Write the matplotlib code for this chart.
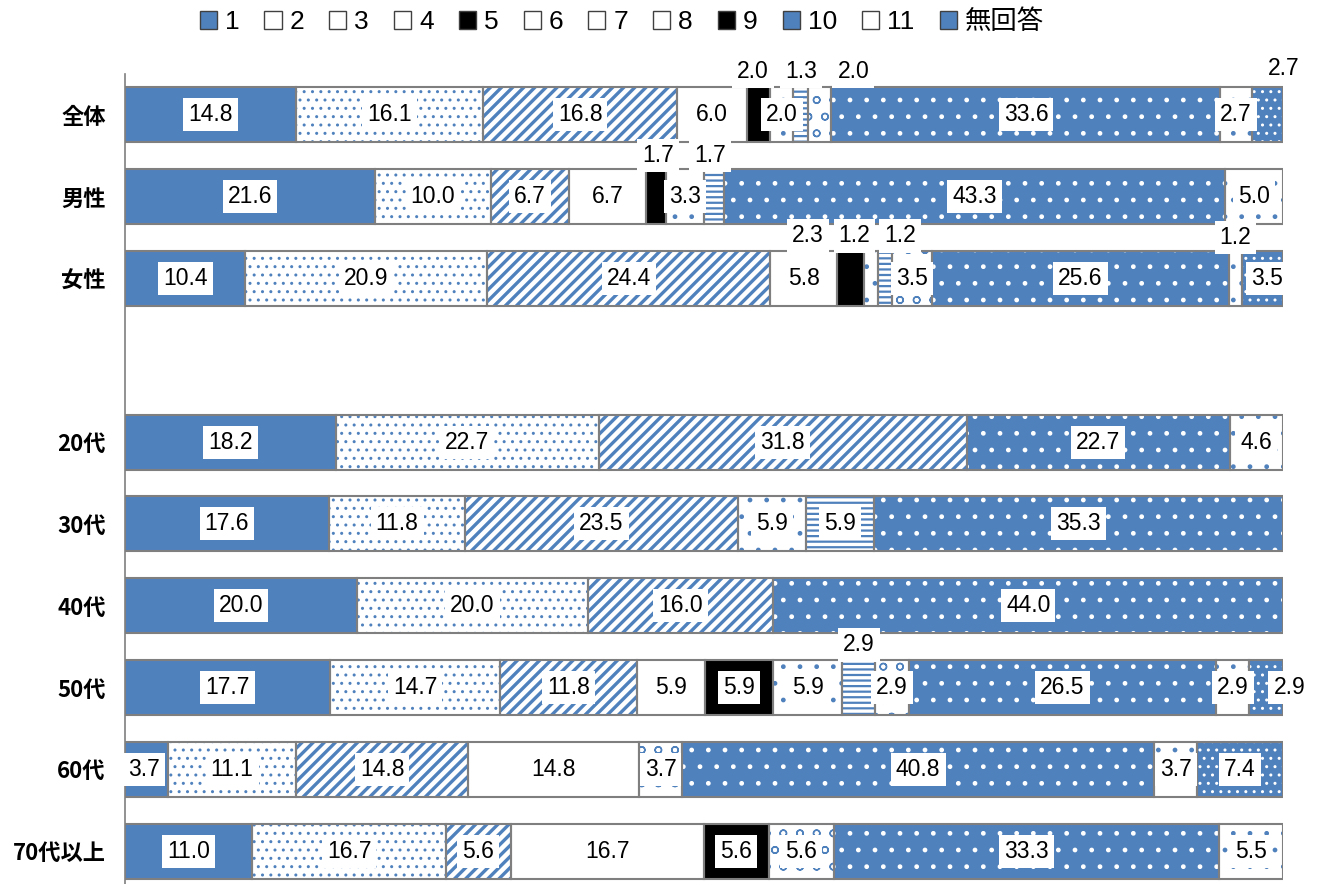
import numpy as np
import matplotlib
matplotlib.use('Agg')
import matplotlib.pyplot as plt
from matplotlib.patches import Patch

plt.rcParams['font.family'] = ['Liberation Sans', 'Noto Sans CJK JP', 'DejaVu Sans']

# ---- data ----
categories = ['全体', '男性', '女性', '', '20代', '30代', '40代', '50代', '60代', '70代以上']
legend_labels = ['1', '2', '3', '4', '5', '6', '7', '8', '9', '10', '11', '無回答']

s1 = [14.8, 21.6, 10.4, 0, 18.2, 17.6, 20.0, 17.7, 3.7, 11.0]
s2 = [16.1, 10.0, 20.9, 0, 22.7, 11.8, 20.0, 14.7, 11.1, 16.7]
s3 = [16.8, 6.7, 24.4, 0, 31.8, 23.5, 16.0, 11.8, 14.8, 5.6]
s4 = [6.0, 6.7, 5.8, 0, 0, 0, 0, 5.9, 14.8, 16.7]
s5 = [2.0, 1.7, 2.3, 0, 0, 0, 0, 5.9, 0, 5.6]
s6 = [2.0, 3.3, 1.2, 0, 0, 5.9, 0, 5.9, 0, 0]
s7 = [1.3, 1.7, 1.2, 0, 0, 5.9, 0, 2.9, 0, 0]
s8 = [2.0, 0, 3.5, 0, 0, 0, 0, 2.9, 3.7, 5.6]
s9 = [0, 0, 0, 0, 0, 0, 0, 0, 0, 0]
s10 = [33.6, 43.3, 25.6, 0, 22.7, 35.3, 44.0, 26.5, 40.8, 33.3]
s11 = [2.7, 5.0, 1.2, 0, 4.6, 0, 0, 2.9, 3.7, 5.5]
s_na = [2.7, 0, 3.5, 0, 0, 0, 0, 2.9, 7.4, 0]

series = [s1, s2, s3, s4, s5, s6, s7, s8, s9, s10, s11, s_na]

# ---- styles ----
BLUE = '#4F81BD'
styles = [
    dict(face=BLUE, hatch=None, hc=BLUE, hlw=1.0),
    dict(face='white', hatch='..', hc=BLUE, hlw=1.0),
    dict(face='white', hatch='///', hc=BLUE, hlw=2.4),
    dict(face='white', hatch=None, hc='white', hlw=1.0),
    dict(face='black', hatch=None, hc='black', hlw=1.0),
    dict(face='white', hatch='.', hc=BLUE, hlw=1.0),
    dict(face='white', hatch='---', hc=BLUE, hlw=1.6),
    dict(face='white', hatch='o', hc=BLUE, hlw=1.0),
    dict(face='black', hatch=None, hc='black', hlw=1.0),
    dict(face=BLUE, hatch='.', hc='white', hlw=1.0),
    dict(face='white', hatch='.', hc=BLUE, hlw=1.0),
    dict(face=BLUE, hatch='..', hc='white', hlw=1.0),
]

# label placement adjustments: (row, series) -> (dx in %, dy in rows)
label_shift = {
    (0, 4): (-0.5, -0.53), (0, 6): (0.0, -0.53), (0, 7): (2.9, -0.53), (0, 11): (1.4, -0.57),
    (1, 4): (0.2, -0.5), (1, 6): (-0.3, -0.5),
    (2, 4): (-3.7, -0.52), (2, 5): (-1.4, -0.52), (2, 6): (1.3, -0.52), (2, 10): (0.0, -0.5),
    (2, 11): (0.4, 0.0),
    (7, 6): (0.0, -0.52), (7, 11): (2.0, 0.0),
    (8, 0): (-0.2, 0.0),
}

fig = plt.figure(figsize=(13.2, 8.84), dpi=100)
ax = fig.add_axes([125 / 1320, 1 - 892 / 884, (1283 - 125) / 1320, (892 - 74) / 884])

y = np.arange(len(categories))
left = np.zeros(len(categories))
H = 0.67
GRAY = '#7f7f7f'

texts = []
for si, vals in enumerate(series):
    vals = np.array(vals, dtype=float)
    st = styles[si]
    for j, v in enumerate(vals):
        if v <= 0:
            continue
        bars = ax.barh(y[j], v, left=left[j], height=H, color=st['face'],
                       edgecolor=st['hc'], linewidth=0, hatch=st['hatch'], zorder=2)
        for b in bars:
            if hasattr(b, 'set_hatch_linewidth'):
                b.set_hatch_linewidth(st['hlw'])
        ax.barh(y[j], v, left=left[j], height=H, facecolor='none',
                edgecolor=GRAY, linewidth=1.5, zorder=3)
        dx, dy = label_shift.get((j, si), (0.0, 0.0))
        texts.append((left[j] + v / 2 + dx, y[j] + dy, f'{v:.1f}'))
    left += vals

for tx, ty, s in texts:
    ax.text(tx, ty, s, ha='center', va='center', fontsize=16.5, color='black', zorder=6,
            bbox=dict(boxstyle='square,pad=0.22', facecolor='white', edgecolor='none'))

ax.set_xlim(0, 100)
ax.set_ylim(9.5, -0.5)
ax.set_yticks(y)
ax.set_yticklabels(categories, fontsize=16, fontweight='bold',
                   family=['Noto Sans CJK JP', 'DejaVu Sans'])
ax.tick_params(axis='y', length=0, pad=14)
ax.set_xticks([])
for sp in ['top', 'right', 'bottom']:
    ax.spines[sp].set_visible(False)
ax.spines['left'].set_color(GRAY)
ax.spines['left'].set_linewidth(1.2)

handles = []
for st in styles:
    p = Patch(facecolor=st['face'], edgecolor='#404040', linewidth=1.0)
    handles.append(p)
fig.legend(handles, legend_labels, loc='center', bbox_to_anchor=(0.471, 0.975), ncol=12,
           frameon=False, handlelength=0.65, handleheight=0.65, handletextpad=0.3,
           columnspacing=0.95, prop={'family': ['Liberation Sans', 'Noto Sans CJK JP'], 'size': 19})

fig.savefig('out.png', dpi=100)
